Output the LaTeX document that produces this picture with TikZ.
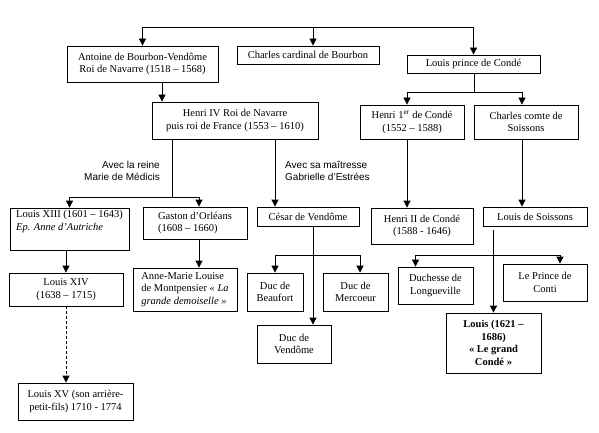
\documentclass[tikz,border=0pt]{standalone}
\usepackage{fontspec}
\setmainfont{Liberation Serif}
\setsansfont{Liberation Sans}
\usetikzlibrary{arrows.meta}

\begin{document}
\begin{tikzpicture}[x=1pt,y=-1pt]
        \tikzstyle{every node}=[font=\fontsize{10.5}{12.8}\selectfont,inner sep=2pt]
        \tikzstyle{boite}=[draw,line width=0.8pt,align=center]
        \tikzstyle{gauche}=[boite,align=left]
        \tikzstyle{gras}=[boite,font=\fontsize{10.5}{12.4}\selectfont\bfseries]
        \tikzstyle{legende}=[font=\sffamily\fontsize{10}{12}\selectfont]
        \tikzstyle{trait}=[line width=0.8pt]
        \tikzstyle{fleche}=[trait,-{Triangle[length=7pt,width=7pt]}]
        \useasboundingbox (0,0) rectangle (599,433);
        % premiere generation
        \node[boite,minimum width=151,minimum height=36] (antoine) at (142.5,64) {Antoine de Bourbon-Vendôme\\Roi de Navarre (1518 – 1568)};
        \node[boite,minimum width=142,minimum height=18] (cardinal) at (308,55) {Charles cardinal de Bourbon};
        \node[boite,minimum width=133,minimum height=18] (conde) at (473.5,64) {Louis prince de Condé};
        % deuxieme generation
        \node[boite,minimum width=166,minimum height=37] (henri4) at (235,120.5) {Henri IV Roi de Navarre\\puis roi de France (1553 – 1610)};
        \node[boite,minimum width=104,minimum height=34] (henri1) at (412,122) {Henri 1\textsuperscript{er} de Condé\\(1552 – 1588)};
        \node[boite,minimum width=104,minimum height=34] (charles) at (526,122) {Charles comte de\\Soissons};
        % troisieme generation
        \node[gauche,minimum width=119,minimum height=42] (louis13) at (69.5,229) {Louis XIII (1601 – 1643)\\\textit{Ep. Anne d'Autriche}\\[4pt]};
        \node[gauche,minimum width=104,minimum height=32] (gaston) at (195,223) {Gaston d'Orléans\\(1608 – 1660)};
        \node[boite,minimum width=102,minimum height=19] (cesar) at (308,216.5) {César de Vendôme};
        \node[boite,minimum width=102,minimum height=36] (henri2) at (422,226) {Henri II de Condé\\(1588 - 1646)};
        \node[boite,minimum width=104,minimum height=19] (soissons) at (535,216.5) {Louis de Soissons};
        \node[legende,anchor=east,align=right] (avecreine) at (162,171) {Avec la reine\\Marie de Médicis};
        \node[legende,anchor=west,align=left] (avecgabrielle) at (283,171) {Avec sa maîtresse\\Gabrielle d'Estrées};
        % quatrieme generation
        \node[boite,minimum width=114,minimum height=33] (louis14) at (66,289.5) {Louis XIV\\(1638 – 1715)};
        \node[gauche,minimum width=104,minimum height=43] (annemarie) at (185,289.5) {Anne-Marie Louise\\de Montpensier \textit{« La}\\\textit{grande demoiselle »}};
        \node[boite,minimum width=56,minimum height=38] (beaufort) at (275,292) {Duc de\\Beaufort};
        \node[boite,minimum width=65,minimum height=38] (mercoeur) at (355.5,292) {Duc de\\Mercoeur};
        \node[boite,minimum width=74,minimum height=38] (vendome) at (294,344) {Duc de\\Vendôme};
        \node[boite,minimum width=75,minimum height=37] (duchesse) at (435.5,285.5) {Duchesse de\\Longueville};
        \node[boite,minimum width=84,minimum height=37] (conti) at (545,282.5) {Le Prince de\\Conti};
        \node[gras,minimum width=95,minimum height=60] (grandconde) at (493.5,343) {Louis (1621 –\\1686)\\« Le grand\\Condé »};
        \node[boite,minimum width=115,minimum height=37] (louis15) at (75.5,401.5) {Louis XV (son arrière-\\petit-fils) 1710 - 1774};
        % liens
        \coordinate (haut) at (0,27);
        \coordinate (reine) at (172,197);
        \coordinate (prince) at (474,92);
        \coordinate (cesarfils) at (313,255);
        \coordinate (henri2fils) at (494,255);
        \draw[trait] (antoine.north |- haut) -- (conde.north |- haut);
        \draw[fleche] (antoine.north |- haut) -- (antoine.north);
        \draw[fleche] ([xshift=5pt]cardinal.north |- haut) -- ([xshift=5pt]cardinal.north);
        \draw[fleche] (conde.north |- haut) -- (conde.north);
        \draw[fleche] ([xshift=19.5pt]antoine.south) -- ([xshift=19.5pt]antoine.south |- henri4.north);
        \draw[trait] (henri4.south -| reine) -- (reine);
        \draw[fleche] (reine) -| (louis13.north);
        \draw[fleche] (reine) -| ([xshift=4pt]gaston.north);
        \draw[fleche] ([xshift=40pt]henri4.south) -- ([xshift=40pt]henri4.south |- cesar.north);
        \draw[trait] (conde.south -| prince) -- (prince);
        \draw[fleche] (prince) -| ([xshift=-5pt]henri1.north);
        \draw[fleche] (prince) -| ([xshift=-4pt]charles.north);
        \draw[fleche] ([xshift=-5pt]henri1.south) -- ([xshift=-5pt]henri1.south |- henri2.north);
        \draw[fleche] ([xshift=-4pt]charles.south) -- ([xshift=-4pt]charles.south |- soissons.north);
        \draw[fleche] (louis14.north |- louis13.south) -- (louis14.north);
        \draw[fleche] ([xshift=4pt]gaston.south) -- ([xshift=4pt]gaston.south |- annemarie.north);
        \draw[fleche,dash pattern=on 3pt off 2pt] (louis14.south) -- (louis14.south |- louis15.north);
        \draw[fleche] (cesar.south -| cesarfils) -- (cesarfils |- vendome.north);
        \draw[fleche] (cesarfils) -| (beaufort.north);
        \draw[fleche] (cesarfils) -| ([xshift=4.5pt]mercoeur.north);
        \draw[fleche] (henri2fils) -| ([xshift=-20pt]duchesse.north);
        \draw[fleche] (henri2fils) -| ([xshift=15pt]conti.north);
        \draw[fleche] ([yshift=-4pt]soissons.south -| grandconde.north) -- (grandconde.north);
\end{tikzpicture}
\end{document}
